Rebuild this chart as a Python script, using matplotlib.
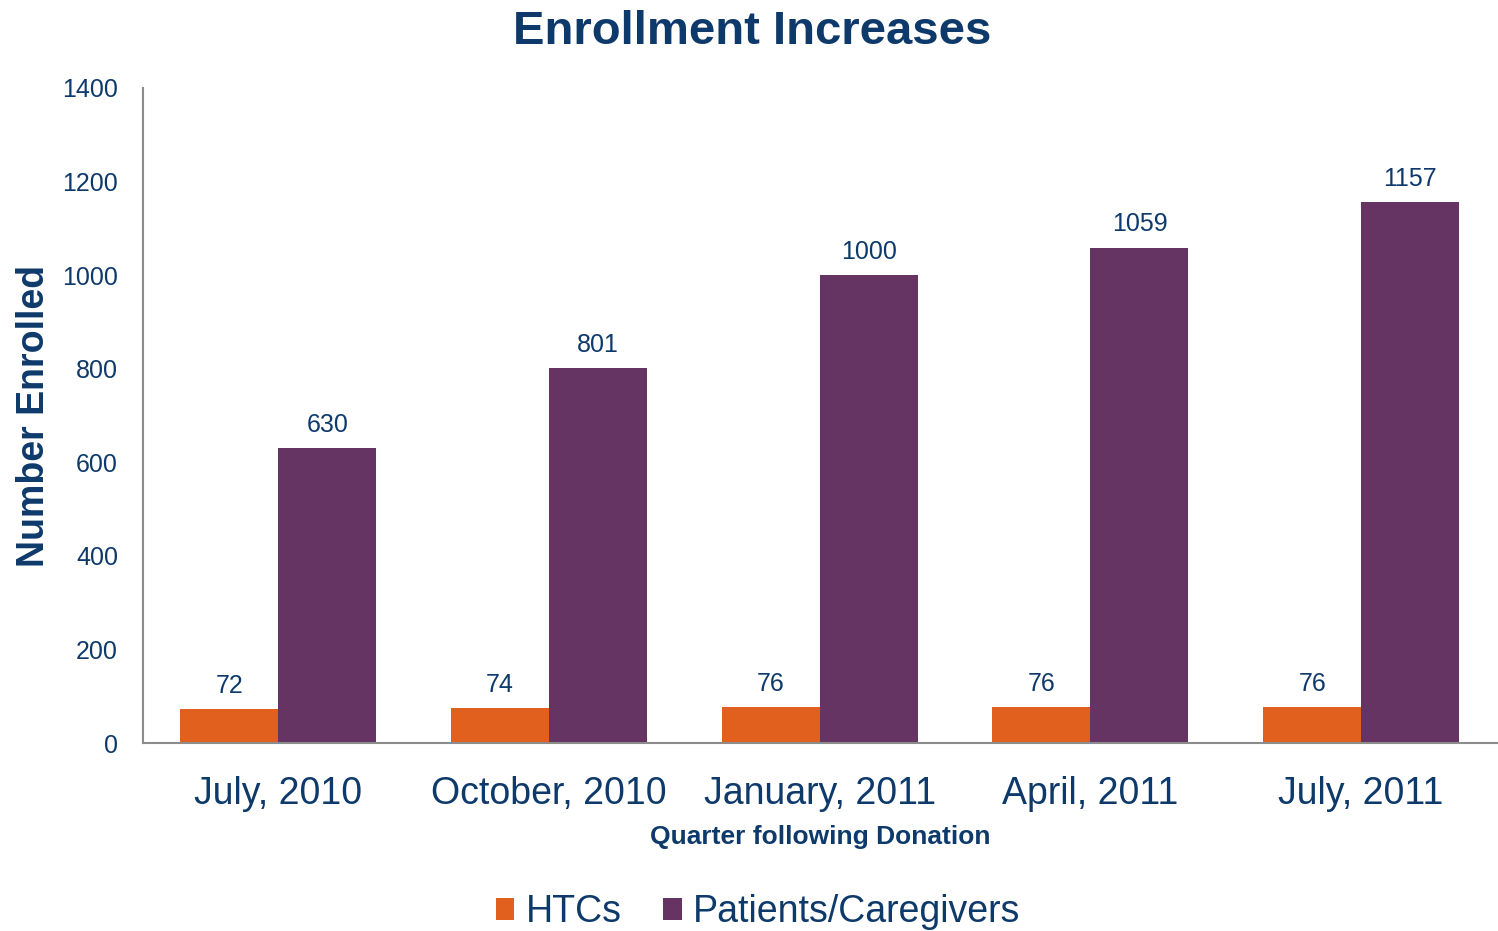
import matplotlib.pyplot as plt
import numpy as np

plt.rcParams['font.family'] = ['Liberation Sans', 'DejaVu Sans']

quarters = ['July, 2010', 'October, 2010', 'January, 2011', 'April, 2011', 'July, 2011']
htcs = [72, 74, 76, 76, 76]
patients = [630, 801, 1000, 1059, 1157]
series_names = ['HTCs', 'Patients/Caregivers']

text_color = '#0E3A6B'
orange = '#E2601E'
purple = '#663462'

fig = plt.figure(figsize=(14.98, 9.31), dpi=100)
ax = fig.add_axes([0.0955, 0.2019, 0.9035, 0.7036])

x = np.arange(len(quarters))
width = 0.362

bars1 = ax.bar(x - width / 2, htcs, width, color=orange, label=series_names[0])
bars2 = ax.bar(x + width / 2, patients, width, color=purple, label=series_names[1])

for bars, vals in [(bars1, htcs), (bars2, patients)]:
    for b, v in zip(bars, vals):
        ax.annotate(str(v), (b.get_x() + b.get_width() / 2, v),
                    xytext=(0, 8), textcoords='offset points',
                    ha='center', va='bottom', fontsize=18, color=text_color)

ax.set_xlim(-0.5, len(quarters) - 0.5)
ax.set_ylim(0, 1400)
ax.set_yticks(range(0, 1401, 200))
ax.tick_params(axis='y', length=0, labelsize=18, labelcolor=text_color, pad=18)
ax.tick_params(axis='x', length=0, labelsize=27, labelcolor=text_color, pad=24)
ax.set_xticks(x)
ax.set_xticklabels(quarters)

for side in ['top', 'right']:
    ax.spines[side].set_visible(False)
for side in ['left', 'bottom']:
    ax.spines[side].set_color('#8C8C8C')
    ax.spines[side].set_linewidth(1.5)

ax.set_ylabel('Number Enrolled', fontsize=27, fontweight='bold', color=text_color, labelpad=7)
ax.set_xlabel('Quarter following Donation', fontsize=19, fontweight='bold', color=text_color, labelpad=9)

fig.text(0.502, 0.966, 'Enrollment Increases', ha='center', va='center',
         fontsize=34, fontweight='bold', color=text_color)

leg = fig.legend(loc='center', bbox_to_anchor=(0.506, 0.02), ncol=2, frameon=False,
                 fontsize=27, handlelength=0.5, handleheight=0.5, handletextpad=0.3,
                 columnspacing=1.1)
for t in leg.get_texts():
    t.set_color(text_color)

fig.savefig('out.png', dpi=100)
